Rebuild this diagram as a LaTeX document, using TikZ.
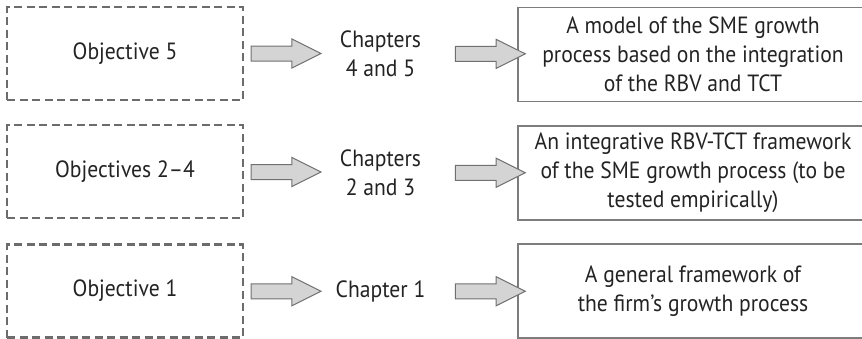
\documentclass[tikz,border=0pt]{standalone}
\usepackage{fontspec}
\setmainfont[FakeStretch=0.92]{PT Sans}
\usetikzlibrary{shapes.arrows}

\definecolor{dashgray}{RGB}{108,108,108}
\definecolor{boxgray}{RGB}{125,125,125}
\definecolor{arrowfill}{RGB}{212,212,212}
\definecolor{arrowline}{RGB}{112,112,112}
\definecolor{inkgray}{RGB}{35,35,35}

\begin{document}
\begin{tikzpicture}
	[x=1pt,y=-1pt,
	 every node/.style={font=\fontsize{23.5}{29}\selectfont, text=inkgray},
	 objbox/.style={draw=dashgray, line width=2.4pt, dash pattern=on 8pt off 4.5pt, minimum width=236pt, minimum height=93pt, inner sep=0pt},
	 chapbox/.style={minimum width=135pt, align=center, inner sep=0pt},
	 resbox/.style={draw=boxgray, line width=1.3pt, minimum width=350pt, minimum height=94pt, align=center, inner sep=0pt},
	 blockarrow/.style={single arrow, draw=arrowline, fill=arrowfill, line width=1pt, minimum height=70pt, inner xsep=0pt, inner ysep=7pt, single arrow head extend=7pt, single arrow tip angle=53}]
	\clip (0,0) rectangle (862,338);
	
	\node[objbox] (obj5) at (125,53.5) {Objective 5};
	\node[objbox] (obj24) at (125,171.5) {Objectives 2–4};
	\node[objbox] (obj1) at (125,291) {Objective 1};
	
	\node[chapbox] (ch45) at (380.5,53.5) {Chapters\\4 and 5};
	\node[chapbox] (ch23) at (380.5,172.5) {Chapters\\2 and 3};
	\node[chapbox] (ch1) at (380.5,291.5) {Chapter 1};
	
	\node[resbox] (model) at (693,54.5) {A model of the SME growth\\process based on the integration\\of the RBV and TCT};
	\node[resbox] (frame) at (693,173) {An integrative RBV-TCT framework\\of the SME growth process (to be\\tested empirically)};
	\node[resbox] (general) at (693,291) {A general framework of\\the firm’s growth process};
	
	\path (obj5) -- (ch45) node [pos=.5, blockarrow] {};
	\path (ch45) -- (model) node [pos=.5, blockarrow] {};
	\path (obj24.east) -- (ch23.west) node [midway, blockarrow] {};
	\path (ch23.east) -- (frame.west) node [midway, blockarrow] {};
	\path (obj1.east) -- (ch1.west) node [midway, blockarrow] {};
	\path (ch1.east) -- (general.west) node [midway, blockarrow] {};
\end{tikzpicture}
\end{document}
